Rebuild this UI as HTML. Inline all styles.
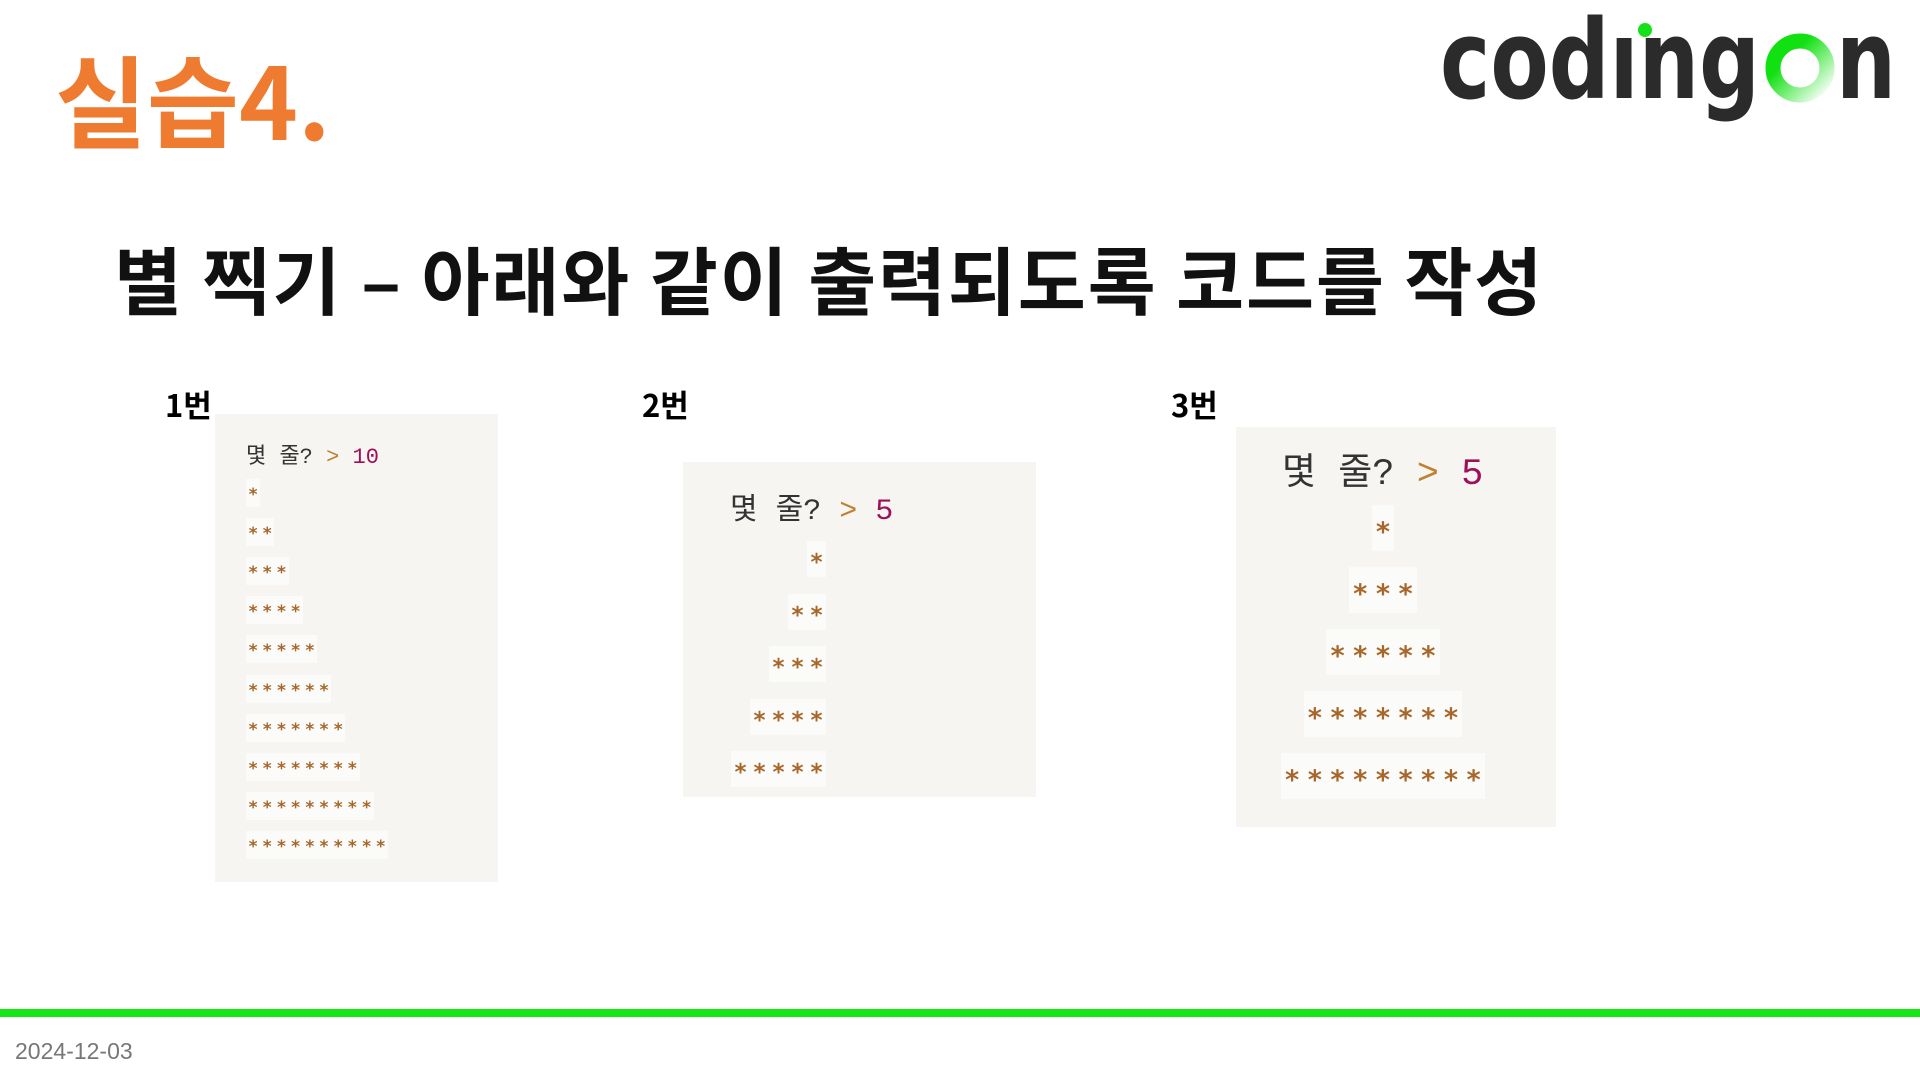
<!DOCTYPE html>
<html><head><meta charset="utf-8">
<style>
body{margin:0;width:1920px;height:1080px;background:#fff;position:relative;overflow:hidden;font-family:"Liberation Sans","Noto Sans CJK KR",sans-serif}
.abs{position:absolute}
.panel{position:absolute;background:#f6f5f2}
.hdr{position:absolute;white-space:nowrap;font-family:"Liberation Mono","Noto Sans CJK KR",monospace;color:#333}
.row{position:absolute;display:flex;background:#fbfbf9}
.row span{display:block;text-align:center;color:#a8672a;font-family:"DejaVu Sans Mono",monospace;font-weight:bold}
</style></head><body>
<div class="abs" style="left:55px;top:32px;font-size:100px;font-weight:bold;color:#ef7b30;font-family:'Noto Sans CJK KR',sans-serif;line-height:130px">실습4.</div>

<svg class="abs" style="left:1430px;top:10px" width="480" height="120">
<text x="10" y="88" font-family="DejaVu Sans" font-weight="bold" font-size="110" fill="#2b2b2b" textLength="320" lengthAdjust="spacingAndGlyphs">codıng</text>
<circle cx="215" cy="20" r="7" fill="#18e018"/>
<defs><linearGradient id="g" x1="0" y1="0" x2="1" y2="1"><stop offset="0.3" stop-color="#11e011"/><stop offset="1" stop-color="#ffffff"/></linearGradient></defs>
<circle cx="370" cy="58" r="27" fill="none" stroke="url(#g)" stroke-width="15"/>
<text x="406" y="88" font-family="DejaVu Sans" font-weight="bold" font-size="110" fill="#2b2b2b" textLength="60" lengthAdjust="spacingAndGlyphs">n</text>
</svg>

<div class="abs" style="left:114px;top:228px;font-size:74px;font-weight:bold;color:#111;font-family:'Noto Sans CJK KR',sans-serif;line-height:100px;white-space:nowrap;letter-spacing:1.8px">별 찍기 – 아래와 같이 출력되도록 코드를 작성</div>

<div class="abs" style="left:165px;top:384px;font-size:31px;font-weight:bold;font-family:'Noto Sans CJK KR',sans-serif;line-height:40px">1번</div>
<div class="abs" style="left:642px;top:384px;font-size:31px;font-weight:bold;font-family:'Noto Sans CJK KR',sans-serif;line-height:40px">2번</div>
<div class="abs" style="left:1171px;top:384px;font-size:31px;font-weight:bold;font-family:'Noto Sans CJK KR',sans-serif;line-height:40px">3번</div>

<div class="panel" style="left:215px;top:414px;width:283px;height:468px"></div>
<div class="panel" style="left:683px;top:462px;width:353px;height:335px"></div>
<div class="panel" style="left:1236px;top:427px;width:320px;height:400px"></div>

<div class="hdr" style="left:246px;top:444px;font-size:22px;line-height:28px">몇 줄? <span style="color:#c08030">&gt;</span> <span style="color:#a0105a">10</span></div>
<div class="hdr" style="left:730px;top:494px;font-size:30px;line-height:36px">몇 줄? <span style="color:#c08030">&gt;</span> <span style="color:#a0105a">5</span></div>
<div class="hdr" style="left:1282px;top:453px;font-size:37px;line-height:44px">몇 줄? <span style="color:#c08030">&gt;</span> <span style="color:#a0105a">5</span></div>

<div class="abs" style="left:15px;top:1036px;font-size:23px;color:#777;line-height:30px">2024-12-03</div>
<div class="abs" style="left:0;top:1009px;width:1920px;height:8px;background:#15e615"></div>

<script>
const counts1=[1,2,3,4,5,6,7,8,9,10];
const counts2=[1,2,3,4,5];
const counts3=[1,3,5,7,9];
function draw(counts,opt,name){
  counts.forEach((n,i)=>{
    const r=document.createElement('div');
    r.className='row';
    
    
    const w=n*opt.pitch;
    let left=opt.align==='left'?opt.x:opt.align==='right'?opt.x-w:opt.x-w/2;
    const cy=opt.y0+i*opt.dy;
    r.style.left=left+'px';
    r.style.top=(cy-opt.h/2)+'px';
    r.style.height=opt.h+'px';
    for(let k=0;k<n;k++){
      const s=document.createElement('span');
      s.textContent='*';
      s.style.width=opt.pitch+'px';
      s.style.fontSize=opt.fs+'px';
      s.style.lineHeight=(opt.h+opt.fs*0.35)+'px';
      r.appendChild(s);
    }
    document.body.appendChild(r);
  });
}
draw(counts1,{x:246,y0:493,dy:39.1,pitch:14.2,h:28,fs:17,align:'left'},'pattern1');
draw(counts2,{x:826,y0:559,dy:52.5,pitch:19,h:36,fs:23,align:'right'},'pattern2');
draw(counts3,{x:1383,y0:528,dy:62,pitch:22.7,h:46,fs:27,align:'center'},'pattern3');
</script>
</body></html>
